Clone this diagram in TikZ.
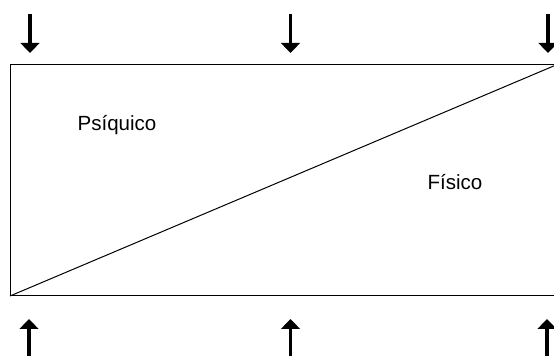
\documentclass[tikz,border=0pt]{standalone}
\usepackage{fontspec}
\setmainfont{Liberation Sans}
\usepackage{xcolor}
\usetikzlibrary{arrows.meta, positioning, calc}

\begin{document}
\begin{tikzpicture}[x=0.75pt, y=-0.75pt,
    flow/.style={-{Triangle[width=14pt, length=7.5pt]}, line width=2.6pt, black},
    label/.style={font=\fontsize{15.4}{18}\selectfont, anchor=base, inner sep=0pt}]

  \useasboundingbox (0,0) rectangle (554,356);

  % box and the dividing diagonal
  \coordinate (boxnw) at (10,65);
  \coordinate (boxse) at (556,296);
  \draw[line width=0.75pt] (boxnw) rectangle (boxse);
  \draw[line width=0.75pt] (boxnw |- boxse) -- (boxse |- boxnw);

  \node[label] (psiq) at (117,131) {Psíquico};
  \node[label] (fis)  at (455,190) {Físico};

  % arrows from above
  \foreach \x [count=\i] in {30, 290.5, 548} {
    \coordinate (top\i)  at (\x,14);
    \coordinate (topt\i) at (\x,53);
    \draw[flow] (top\i) -- (topt\i);
  }

  % arrows from below
  \foreach \x [count=\i] in {29, 290.5, 547} {
    \coordinate (bot\i)  at (\x,358);
    \coordinate (bott\i) at (\x,319);
    \draw[flow] (bot\i) -- (bott\i);
  }

\end{tikzpicture}
\end{document}
